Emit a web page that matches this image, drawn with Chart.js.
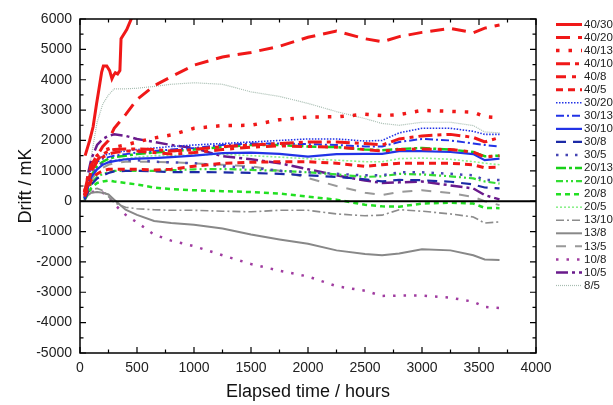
<!DOCTYPE html>
<html><head><meta charset="utf-8">
<script src="https://cdn.jsdelivr.net/npm/chart.js@4/dist/chart.umd.min.js"></script>
<style>html,body{margin:0;padding:0;background:#fff}#wrap{width:613px;height:405px;position:relative}</style>
</head><body><div id="wrap"><canvas id="c"></canvas></div>
<script>
// ---- data ----
const hours = [40, 70, 100, 150, 200, 250, 300, 400, 500, 650, 800, 1000, 1250, 1500, 1750, 2000, 2250, 2500, 2650, 2800, 3000, 3250, 3450, 3550, 3680];
const hours_40_30 = [45, 85, 115, 145, 160, 190, 205, 235, 260, 280, 295, 310, 330, 350, 360, 410, 455, 500];
const d_40_30 = [1500, 2000, 2450, 3200, 3550, 4250, 4450, 4450, 4300, 4030, 4150, 4230, 4190, 4300, 5350, 5650, 6050, 6500];
const d_40_20 = [300, 800, 1200, 1500, 1800, 2000, 2400, 2850, 3350, 3800, 4100, 4480, 4750, 4900, 5100, 5400, 5600, 5350, 5250, 5420, 5560, 5690, 5550, 5700, 5800];
const d_40_13 = [300, 800, 1200, 1500, 1650, 1720, 1780, 1850, 1950, 2080, 2180, 2400, 2490, 2500, 2680, 2770, 2780, 2860, 2820, 2850, 2990, 2960, 2930, 2780, 2750];
const d_40_10 = [200, 600, 1000, 1350, 1550, 1650, 1700, 1720, 1720, 1700, 1650, 1700, 1800, 1850, 1900, 1950, 1950, 1900, 1850, 2050, 2150, 2200, 2100, 1950, 2100];
const d_40_8 = [200, 600, 1000, 1300, 1450, 1550, 1600, 1650, 1650, 1600, 1550, 1600, 1700, 1780, 1820, 1800, 1780, 1700, 1650, 1700, 1720, 1700, 1620, 1450, 1500];
const d_40_5 = [150, 400, 700, 900, 1000, 1050, 1050, 1050, 1050, 1030, 1050, 1150, 1250, 1280, 1300, 1300, 1250, 1150, 1200, 1250, 1250, 1250, 1200, 1100, 1120];
const d_30_20 = [200, 700, 1100, 1350, 1500, 1550, 1600, 1650, 1700, 1750, 1800, 1850, 1900, 1950, 2000, 2050, 2050, 1980, 2000, 2250, 2400, 2400, 2300, 2200, 2200];
const d_30_13 = [150, 600, 1000, 1300, 1400, 1450, 1500, 1550, 1600, 1650, 1700, 1750, 1850, 1900, 1900, 1880, 1850, 1800, 1800, 1950, 2050, 2000, 1900, 1850, 1800];
const d_30_10 = [100, 450, 800, 1050, 1200, 1280, 1320, 1380, 1400, 1420, 1450, 1500, 1580, 1600, 1560, 1470, 1550, 1560, 1560, 1650, 1650, 1620, 1550, 1350, 1400];
const d_30_8 = [50, 300, 550, 750, 850, 930, 980, 1000, 1000, 980, 960, 960, 950, 930, 900, 850, 800, 720, 650, 700, 690, 640, 550, 450, 420];
const d_30_5 = [100, 500, 850, 1100, 1250, 1300, 1350, 1350, 1350, 1300, 1280, 1250, 1150, 1100, 1000, 950, 900, 850, 850, 950, 950, 900, 850, 700, 700];
const d_20_13 = [100, 500, 850, 1150, 1300, 1400, 1450, 1500, 1550, 1600, 1650, 1700, 1780, 1850, 1850, 1800, 1780, 1700, 1680, 1720, 1750, 1700, 1620, 1480, 1500];
const d_20_10 = [50, 300, 600, 800, 900, 950, 1000, 1000, 1000, 1000, 1020, 1050, 1060, 1030, 1000, 950, 880, 800, 820, 900, 880, 820, 750, 650, 580];
const d_20_8 = [50, 250, 450, 600, 650, 680, 650, 600, 550, 450, 400, 360, 330, 300, 250, 150, 50, -120, -170, -180, -80, -50, -80, -220, -230];
const d_20_5 = [100, 400, 800, 1050, 1200, 1300, 1350, 1400, 1450, 1500, 1500, 1520, 1550, 1500, 1450, 1400, 1350, 1300, 1300, 1400, 1420, 1380, 1300, 1250, 1200];
const d_13_10 = [50, 250, 380, 420, 350, 150, -50, -200, -250, -280, -300, -300, -330, -350, -300, -300, -420, -480, -460, -280, -330, -420, -520, -720, -680];
const d_13_8 = [50, 200, 280, 300, 280, 220, 50, -280, -450, -650, -720, -780, -900, -1100, -1260, -1400, -1620, -1740, -1780, -1720, -1580, -1620, -1780, -1920, -1940];
const d_13_5 = [50, 400, 700, 950, 1100, 1200, 1250, 1300, 1300, 1300, 1280, 1250, 1200, 1150, 1000, 760, 500, 280, 200, 300, 360, 270, 140, 0, -130];
const d_10_8 = [50, 200, 300, 320, 280, 150, -100, -450, -700, -1100, -1300, -1480, -1780, -2070, -2290, -2480, -2800, -2950, -3120, -3110, -3110, -3180, -3310, -3480, -3520];
const d_10_5 = [200, 900, 1400, 1850, 2050, 2150, 2200, 2150, 2050, 1950, 1850, 1750, 1480, 1380, 1250, 1050, 850, 680, 600, 620, 650, 520, 420, 200, 60];
const d_8_5 = [200, 700, 1500, 2600, 3200, 3500, 3700, 3700, 3720, 3780, 3850, 3900, 3850, 3600, 3450, 3220, 2950, 2720, 2560, 2500, 2600, 2600, 2490, 2280, 2250];
const xTicks = [0, 500, 1000, 1500, 2000, 2500, 3000, 3500, 4000];
const yTicks = [-5000, -4000, -3000, -2000, -1000, 0, 1000, 2000, 3000, 4000, 5000, 6000];

// ---- styles ----
const RED = '#f01818', BLUE = '#2233e6', NAVY = '#1c2aa6', BDOT = '#4646b4';
const series = [
  ['40/30', hours_40_30, d_40_30, RED, 3, []],
  ['40/20', hours, d_40_20, RED, 3, [14, 8]],
  ['40/13', hours, d_40_13, RED, 3.5, [3.5, 9]],
  ['40/10', hours, d_40_10, RED, 3, [14, 5, 4, 5]],
  ['40/8', hours, d_40_8, RED, 3, [10, 6, 4, 6]],
  ['40/5', hours, d_40_5, RED, 3, [7, 5]],
  ['30/20', hours, d_30_20, BLUE, 1.6, [1.5, 1.5]],
  ['30/13', hours, d_30_13, BLUE, 2, [8, 3, 2, 3]],
  ['30/10', hours, d_30_10, BLUE, 2.2, []],
  ['30/8', hours, d_30_8, NAVY, 2.2, [10, 7]],
  ['30/5', hours, d_30_5, BDOT, 2.5, [2.5, 7]],
  ['20/13', hours, d_20_13, '#18d018', 2.5, [10, 3, 3, 3]],
  ['20/10', hours, d_20_10, '#33dd33', 2.2, [7, 3, 2, 3, 2, 3]],
  ['20/8', hours, d_20_8, '#22e022', 2.5, [5, 4]],
  ['20/5', hours, d_20_5, '#8cf08c', 1.6, [2, 2]],
  ['13/10', hours, d_13_10, '#8c8c8c', 1.6, [8, 3, 2, 3]],
  ['13/8', hours, d_13_8, '#888888', 2, []],
  ['13/5', hours, d_13_5, '#999999', 2, [10, 9]],
  ['10/8', hours, d_10_8, '#a03ca0', 2.5, [2.5, 8]],
  ['10/5', hours, d_10_5, '#6a1a8c', 2.5, [12, 4, 3, 4]],
  ['8/5', hours, d_8_5, '#a6bcb0', 1.2, [1, 1]]
];

const datasets = series.map(([label, t, v, color, w, dash]) => ({
  label,
  data: t.map((h, i) => ({x: h, y: v[i]})),
  borderColor: color,
  backgroundColor: color,
  borderWidth: w,
  borderDash: dash,
  pointRadius: 0,
  tension: 0,
  fill: false
}));

const FONT = 'Liberation Sans, Arial, sans-serif';

const framePlugin = {
  id: 'frame',
  afterDatasetsDraw(chart) {
    const {ctx, chartArea: a, scales: {x, y}} = chart;
    ctx.save();
    ctx.strokeStyle = '#000';
    const y0 = y.getPixelForValue(0);
    ctx.lineWidth = 2;
    ctx.beginPath(); ctx.moveTo(a.left, y0); ctx.lineTo(a.right, y0); ctx.stroke();
    ctx.lineWidth = 1.5;
    ctx.strokeRect(a.left, a.top, a.right - a.left, a.bottom - a.top);
    ctx.lineWidth = 1.2;
    ctx.beginPath();
    for (let v = xTicks[0]; v <= xTicks[xTicks.length - 1]; v += 250) {
      const p = x.getPixelForValue(v);
      const L = v % 500 === 0 ? 6 : 3.5;
      ctx.moveTo(p, a.bottom); ctx.lineTo(p, a.bottom - L);
      ctx.moveTo(p, a.top); ctx.lineTo(p, a.top + L);
    }
    for (let v = yTicks[0]; v <= yTicks[yTicks.length - 1]; v += 500) {
      const p = y.getPixelForValue(v);
      const L = v % 1000 === 0 ? 6 : 3.5;
      ctx.moveTo(a.left, p); ctx.lineTo(a.left + L, p);
      ctx.moveTo(a.right, p); ctx.lineTo(a.right - L, p);
    }
    ctx.stroke();
    ctx.restore();
  },
  afterDraw(chart) {
    const {ctx} = chart;
    ctx.save();
    ctx.font = '11.5px ' + FONT;
    ctx.textBaseline = 'middle';
    ctx.textAlign = 'left';
    chart.data.datasets.forEach((ds, i) => {
      const yy = 24.5 + i * 13.05;
      ctx.strokeStyle = ds.borderColor;
      ctx.lineWidth = ds.borderWidth;
      ctx.setLineDash(ds.borderDash || []);
      ctx.beginPath(); ctx.moveTo(556, yy); ctx.lineTo(582, yy); ctx.stroke();
      ctx.setLineDash([]);
      ctx.fillStyle = '#222';
      ctx.fillText(ds.label, 584, yy);
    });
    ctx.restore();
  }
};

new Chart(document.getElementById('c'), {
  type: 'line',
  data: {datasets},
  options: {
    responsive: true,
    maintainAspectRatio: false,
    animation: false,
    layout: {padding: {top: 19, right: 77, left: 0, bottom: 0}},
    plugins: {legend: {display: false}, tooltip: {enabled: false}},
    scales: {
      x: {
        type: 'linear', min: 0, max: 4000,
        afterBuildTicks: s => { s.ticks = xTicks.map(v => ({value: v})); },
        afterFit: s => { s.height = 52; s.paddingLeft = 0; s.paddingRight = 0; },
        grid: {display: false, drawTicks: false},
        border: {display: false},
        ticks: {font: {family: FONT, size: 14}, color: '#222', padding: 7, maxRotation: 0, autoSkip: false, callback: v => String(v)},
        title: {display: true, text: 'Elapsed time / hours', font: {family: FONT, size: 18}, color: '#111', padding: {top: 0, bottom: 2}}
      },
      y: {
        type: 'linear', min: -5000, max: 6000,
        afterBuildTicks: s => { s.ticks = yTicks.map(v => ({value: v})); },
        afterFit: s => { s.width = 80; s.paddingTop = 0; s.paddingBottom = 0; },
        grid: {display: false, drawTicks: false},
        border: {display: false},
        ticks: {font: {family: FONT, size: 14}, color: '#222', padding: 8, autoSkip: false, callback: v => String(v)},
        title: {display: true, text: 'Drift / mK', font: {family: FONT, size: 18}, color: '#111', padding: {top: 15, bottom: 0}}
      }
    }
  },
  plugins: [framePlugin]
});
</script>
</body></html>
